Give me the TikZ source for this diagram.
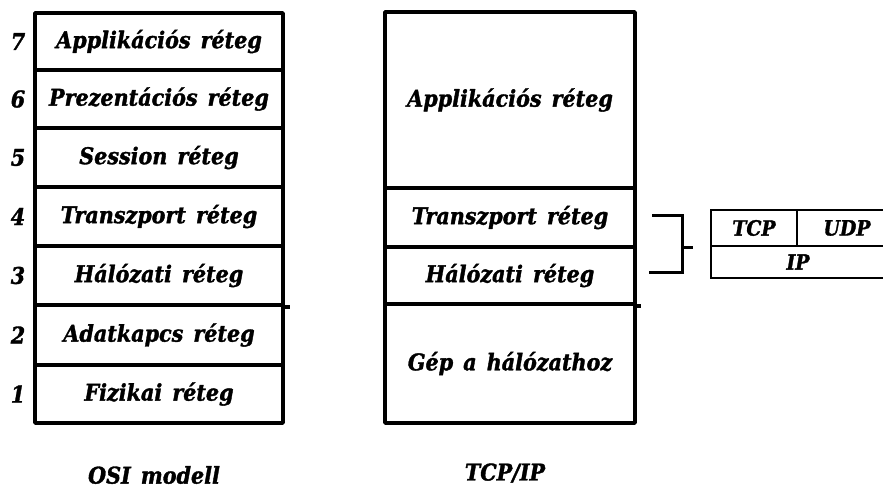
\documentclass[tikz,border=0pt]{standalone}
\usepackage{fontspec}
\newfontfamily\lbl{DejaVu Serif Condensed}[FakeBold=1.5,WordSpace=1.4]
\begin{document}
\begin{tikzpicture}[x=1pt,y=-1pt,
  every node/.style={font=\lbl\bfseries\itshape\fontsize{23}{26}\selectfont, inner sep=0pt},
  layer/.style={draw, line width=3.5pt, line join=round, rectangle},
  osirow/.style={layer, minimum width=248pt},
  tcprow/.style={layer, minimum width=250pt},
  num/.style={},
  cell/.style={draw, line width=2.5pt, rectangle, font=\lbl\bfseries\itshape\fontsize{21}{24}\selectfont},
  rule/.style={line width=3.5pt},
  brace/.style={line width=3pt}]
\useasboundingbox (0,0) rectangle (883,489);

% OSI reference model, seven layers
\node[osirow, minimum height=57pt] (o7) at (159,41.5) {Applikációs réteg};
\node[osirow, minimum height=58pt] (o6) at (159,99)   {Prezentációs réteg};
\node[osirow, minimum height=59pt] (o5) at (159,157.5) {Session réteg};
\node[osirow, minimum height=59pt] (o4) at (159,216.5) {Transzport réteg};
\node[osirow, minimum height=59pt] (o3) at (159,275.5) {Hálózati réteg};
\node[osirow, minimum height=60pt] (o2) at (159,335)   {Adatkapcs réteg};
\node[osirow, minimum height=58pt] (o1) at (159,394)   {Fizikai réteg};

\node[num] (n7) at (18,41.5)  {7};
\node[num] (n6) at (18,99)    {6};
\node[num] (n5) at (18,157.5) {5};
\node[num] (n4) at (18,216.5) {4};
\node[num] (n3) at (18,275.5) {3};
\node[num] (n2) at (18,335)   {2};
\node[num] (n1) at (18,394)   {1};

% TCP/IP model, four layers
\node[tcprow, minimum height=176pt] (t4) at (510,100)   {Applikációs réteg};
\node[tcprow, minimum height=59pt]  (t3) at (510,217.5) {Transzport réteg};
\node[tcprow, minimum height=57pt]  (t2) at (510,275.5) {Hálózati réteg};
\node[tcprow, minimum height=119pt] (t1) at (510,363.5) {Gép a hálózathoz};

% short overhang of the network/link boundary
\draw[rule] (o3.south east) -- ++(5,0);
\draw[rule] (t2.south east) -- ++(4,0);

% bracket joining transport and network layers
\coordinate (bt) at (652,215);
\coordinate (bb) at (649,272);
\coordinate (bm) at (682,247);
\draw[brace] (bt) -- (682,215) -- (682,272) -- (bb);
\draw[brace] (bm) -- ++(11,0);

% protocol box
\node[cell, minimum width=86pt, minimum height=36pt] (tcp) at (754,228) {TCP};
\node[cell, minimum width=100pt, minimum height=36pt] (udp) at (847,228) {UDP};
\node[cell, minimum width=186pt, minimum height=32pt] (ip) at (804,262) {};
\node (iplbl) at (798,262) {\fontsize{21}{24}\selectfont IP};

% model captions
\node (osi) at (154,475) {OSI modell};
\node (tcpip) at (505,473) {TCP/IP};
\end{tikzpicture}
\end{document}
